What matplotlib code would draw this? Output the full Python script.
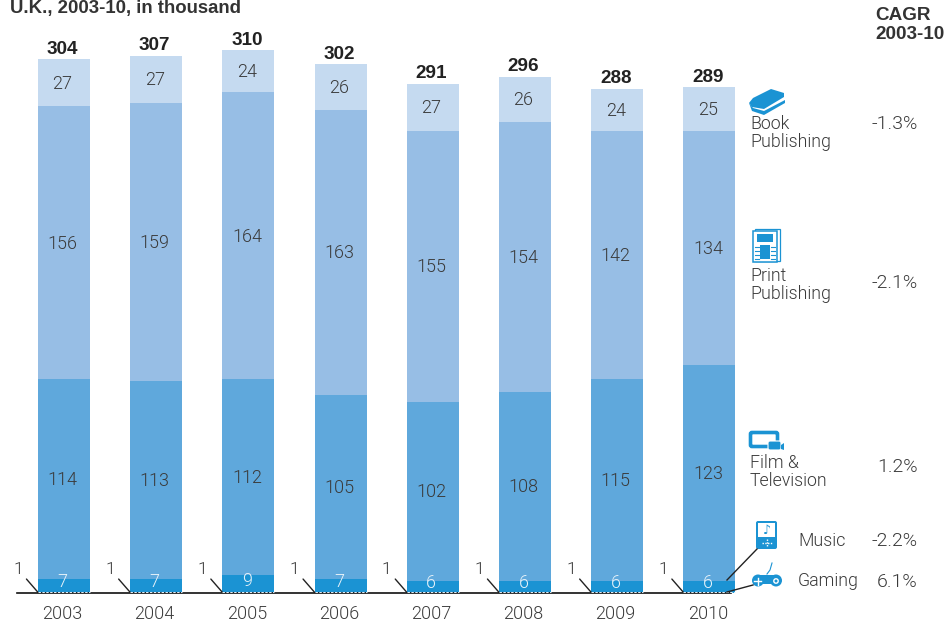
import numpy as np
import matplotlib
matplotlib.use('Agg')
import matplotlib.pyplot as plt
from matplotlib.patches import Rectangle, Polygon, FancyBboxPatch, Circle

plt.rcParams['font.family'] = ['Roboto', 'Liberation Sans', 'DejaVu Sans']
plt.rcParams['font.weight'] = 300

years = ['2003', '2004', '2005', '2006', '2007', '2008', '2009', '2010']
gaming = [1, 1, 1, 1, 1, 1, 1, 1]
music = [7, 7, 9, 7, 6, 6, 6, 6]
film = [114, 113, 112, 105, 102, 108, 115, 123]
press = [156, 159, 164, 163, 155, 154, 142, 134]
book = [27, 27, 24, 26, 27, 26, 24, 25]
totals = [304, 307, 310, 302, 291, 296, 288, 289]

series_names = ['Book\nPublishing', 'Print\nPublishing', 'Film &\nTelevision', 'Music', 'Gaming']
cagr = ['-1.3%', '-2.1%', '1.2%', '-2.2%', '6.1%']

TXT = '#3a3a3a'
ICON = '#1b93d3'
BOLD = dict(family=['Liberation Sans', 'DejaVu Sans'], fontweight='bold')
colors = {'music': '#1b93d3', 'film': '#5fa8dc', 'press': '#97bee5', 'book': '#c5daf0'}

fig = plt.figure(figsize=(9.52, 6.25), dpi=100)
ax = fig.add_axes([0, 0, 1, 1])
ax.set_xlim(-0.694, 9.631)
ax.set_ylim(-18.3, 338.8)
ax.axis('off')

x = np.arange(len(years))
w = 0.565
dx = -0.016  # text sits a little left of the bar centres
bottom = np.array(gaming, dtype=float)
ax.bar(x, gaming, w, color=colors['music'], linewidth=0)
for vals, key, tc, shift in [(music, 'music', '#e8f3fa', 1.5), (film, 'film', TXT, -0.5),
                             (press, 'press', TXT, -0.5), (book, 'book', TXT, -0.5)]:
    ax.bar(x, vals, w, bottom=bottom, color=colors[key], linewidth=0)
    for i, v in enumerate(vals):
        ax.text(i + dx, bottom[i] + v / 2 + shift, str(v), ha='center', va='center', fontsize=13, color=tc)
    bottom = bottom + np.array(vals)

for i, t in enumerate(totals):
    ax.text(i + dx, bottom[i] + 0.9, str(t), ha='center', va='bottom', fontsize=13.6, color='#222222', **BOLD)
    ax.text(i + dx, -12.3, years[i], ha='center', va='center', fontsize=13, color=TXT)
    # little leader for the gaming value
    ax.annotate(str(gaming[i]), xy=(i - w / 2, 0.4), xytext=(-20, 23), textcoords='offset pixels',
                ha='center', va='center', fontsize=12.5, color=TXT,
                arrowprops=dict(arrowstyle='-', color='#222222', lw=1, shrinkA=1, shrinkB=0))

ax.plot([-0.51, 7.23], [0, 0], color='#111111', lw=1.2, zorder=3)
for i in x:
    ax.plot([i - w / 2, i + w / 2], [0.5, 0.5], color='#e8f2fa', lw=0.7, ls=(0, (2.5, 1.5)), zorder=4)

# overlay in pixel coordinates for the header, side labels and icons
ov = fig.add_axes([0, 0, 1, 1])
ov.set_xlim(0, 952)
ov.set_ylim(625, 0)
ov.axis('off')
ov.patch.set_alpha(0)

ov.text(10, 9, 'U.K., 2003-10, in thousand', fontsize=13.4, color='#333333', va='center', **BOLD)
ov.text(875, 25, 'CAGR\n2003-10', fontsize=13.6, color='#333333', va='center', linespacing=1.15, **BOLD)

ov.text(750, 133, series_names[0], fontsize=12.8, color=TXT, va='center', linespacing=1.05)
ov.text(750, 285, series_names[1], fontsize=12.8, color=TXT, va='center', linespacing=1.05)
ov.text(750, 472, series_names[2], fontsize=12.8, color=TXT, va='center', linespacing=1.05)
ov.text(798, 541, series_names[3], fontsize=12.8, color=TXT, va='center')
ov.text(798, 581, series_names[4], fontsize=12.8, color=TXT, va='center')

for txt, yy in zip(cagr, [124, 283, 467, 541, 582]):
    ov.text(918, yy, txt, fontsize=14, color=TXT, ha='right', va='center')

# book icon
ov.add_patch(Polygon([[749, 103], [753, 98], [771, 89], [784, 93], [784, 97], [764, 109], [752, 107]], color=ICON, lw=0))
ov.add_patch(Polygon([[749, 103], [752, 111], [764, 115], [785, 103], [785, 100], [764, 111], [753, 108]], color=ICON, lw=0))

# print icon
ov.add_patch(Rectangle((755, 229), 25, 32, fc='white', ec=ICON, lw=0.9))
ov.add_patch(Rectangle((753, 231), 24, 31, fc='white', ec=ICON, lw=1.1))
ov.add_patch(Rectangle((757, 234), 16, 8, color=ICON, lw=0))
ov.add_patch(Rectangle((760, 245), 10, 14, color=ICON, lw=0))
for yy in (247, 251, 255, 259):
    ov.plot([755, 759], [yy, yy], color=ICON, lw=0.8)
    ov.plot([771, 775], [yy, yy], color=ICON, lw=0.8)

# film icon
ov.add_patch(FancyBboxPatch((750.5, 432.5), 27, 14, boxstyle='round,pad=0,rounding_size=1.5', fc='white', ec=ICON, lw=2.6))
ov.add_patch(FancyBboxPatch((768, 441), 13, 9, boxstyle='round,pad=0,rounding_size=2', fc=ICON, ec='white', lw=0.8))
ov.add_patch(Polygon([[781, 445], [784, 443], [784, 450], [781, 449]], color=ICON, lw=0))

# music icon
ov.add_patch(FancyBboxPatch((756, 521), 21, 28, boxstyle='round,pad=0,rounding_size=2', fc=ICON, ec='none'))
ov.add_patch(Rectangle((758, 523), 17, 14, color='white', lw=0))
ov.text(767, 530, '\u266a', fontsize=9, color=ICON, ha='center', va='center', family='DejaVu Sans', fontweight='normal')
ov.plot([762, 772], [543, 543], color='white', lw=1, ls=(0, (1, 1)))
ov.plot([767, 767], [539, 547], color='white', lw=1, ls=(0, (1, 1)))

# gaming icon
ov.add_patch(FancyBboxPatch((756, 575), 22, 9, boxstyle='round,pad=0,rounding_size=3', fc=ICON, ec='none'))
ov.add_patch(Circle((758, 580.5), 6, color=ICON, lw=0))
ov.add_patch(Circle((776, 580.5), 6, color=ICON, lw=0))
ov.plot([754, 761], [581, 581], color='white', lw=1)
ov.plot([757.5, 757.5], [577.5, 584.5], color='white', lw=1)
ov.add_patch(Circle((776, 581), 2.2, fc='none', ec='white', lw=1))
ov.plot([767, 770, 772], [574, 570, 563], color=ICON, lw=0.8)

# leaders from the last bar to the icons
ov.plot([727, 757], [580, 549], color='#222222', lw=1)
ov.plot([727, 753], [592, 585], color='#222222', lw=1)

fig.savefig('out.png', dpi=100)
